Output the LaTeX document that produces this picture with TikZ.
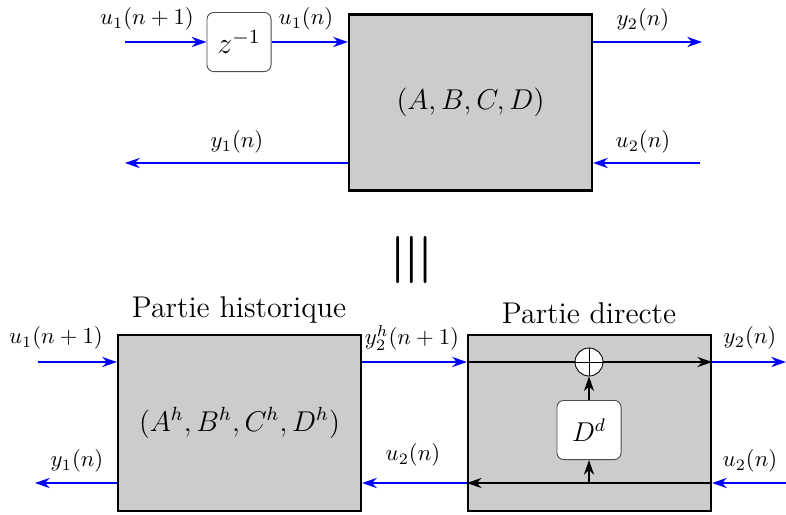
\documentclass[tikz,border=0pt]{standalone}
\usetikzlibrary{arrows.meta,positioning}
\begin{document}
\begin{tikzpicture}[x=0.44pt,y=-0.44pt,
  sys/.style={rectangle,draw=black,fill=black!20,line width=1pt,minimum width=106.9pt,minimum height=77.4pt,align=center,font=\large},
  blk/.style={rectangle,rounded corners=3pt,draw=black!70,fill=white,minimum width=28.2pt,minimum height=26pt,inner sep=0pt,font=\large},
  title/.style={font=\large,scale=1.1},
  sig/.style={-{Stealth[length=6.5pt,width=4.5pt]},blue,thick},
  flow/.style={-{Stealth[length=6.5pt,width=4.5pt]},black,semithick}]
  \useasboundingbox (0,0) rectangle (786,514);
  % original system
  \node[sys] (abcd) at (470.5,102.5) {\scalebox{1.05}{$(A,B,C,D)$}};
  \node[blk] (delay) at (239,42) {\scalebox{1.1}{$z^{-1}$}};
  \coordinate (u1in) at (125,42);
  \coordinate (y2out) at (702,42);
  \coordinate (y1out) at (125,163);
  \coordinate (u2in) at (700,163);
  \draw[sig] (u1in) -- (delay);
  \draw[sig] (delay) -- (delay -| abcd.west);
  \draw[sig] (delay -| abcd.east) -- (y2out);
  \draw[sig] (abcd.west |- y1out) -- (y1out);
  \draw[sig] (u2in) -- (abcd.east |- u2in);
  \node (lu1) at (147,19) {$u_1(n+1)$};
  \node (lu1n) at (306,19) {$u_1(n)$};
  \node (ly2) at (643,20) {$y_2(n)$};
  \node (ly1) at (237,142) {$y_1(n)$};
  \node (lu2) at (643,142) {$u_2(n)$};
  \node[rotate=90,scale=1.25] (equiv) at (413,260) {\Huge$\equiv$};
  % split system
  \node[sys] (hist) at (239.5,423) {\scalebox{1.05}{$(A^h,B^h,C^h,D^h)$}};
  \node[sys] (direct) at (589.5,423) {};
  \node[title] (histlbl) at (239,310) {Partie historique};
  \node[title] (dirlbl) at (589,313) {Partie directe};
  \coordinate (hu1in) at (38,362);
  \coordinate (hy1out) at (35,483);
  \coordinate (dy2out) at (786,362);
  \coordinate (du2in) at (786,483);
  \draw[sig] (hu1in) -- (hist.west |- hu1in);
  \draw[sig] (hist.west |- hy1out) -- (hy1out);
  \draw[sig] (hist.east |- hu1in) -- (direct.west |- hu1in);
  \draw[sig] (direct.west |- hy1out) -- (hist.east |- hy1out);
  \draw[sig] (direct.east |- hu1in) -- (dy2out);
  \draw[sig] (du2in) -- (direct.east |- du2in);
  \node (hlu1) at (56,338) {$u_1(n+1)$};
  \node (hly1) at (77,461) {$y_1(n)$};
  \node (hly2) at (412,338) {$y_2^h(n+1)$};
  \node (hlu2) at (413,455) {$u_2(n)$};
  \node (dly2) at (750,338) {$y_2(n)$};
  \node (dlu2) at (750,461) {$u_2(n)$};
  % direct part
  \draw[flow] (direct.west |- hu1in) -- (direct.east |- hu1in);
  \draw[flow] (direct.east |- du2in) -- (direct.west |- du2in);
  \node[blk] (dd) at (589,430) {$D^d$};
  \node[circle,draw,fill=white,minimum size=12.3pt,inner sep=0pt] (sum) at (589,362) {};
  \draw (sum.north) -- (sum.south) (sum.west) -- (sum.east);
  \draw[flow] (dd |- du2in) -- (dd);
  \draw[flow] (dd) -- (sum);
\end{tikzpicture}
\end{document}
